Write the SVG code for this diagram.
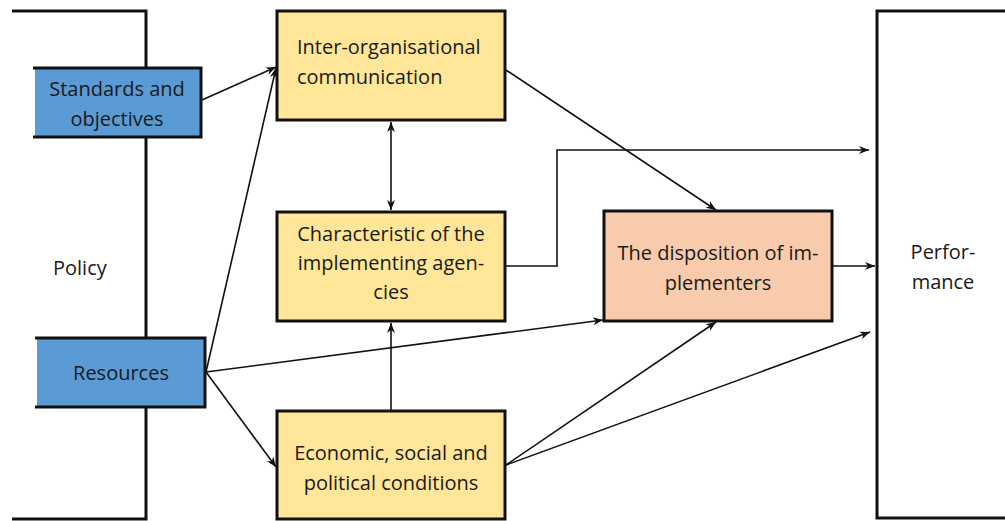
<svg xmlns="http://www.w3.org/2000/svg" width="1005" height="521" viewBox="0 0 1005 521">
<style>
  .txt{font-family:"Open Sans","Liberation Sans",sans-serif;font-size:20px;font-weight:500;fill:#1a1a1a}
  .c{text-anchor:middle}
  .frame{fill:none;stroke:#111;stroke-width:3}
  .box{stroke:#111;stroke-width:3}
  .yel{fill:#FFE699}
  .blue{fill:#5B9BD5}
  .sal{fill:#F8CBAD}
  .con{fill:none;stroke:#111;stroke-width:1.6}
</style>
<defs>
  <marker id="ah" viewBox="0 0 10 10" refX="10" refY="5" markerWidth="10" markerHeight="10" markerUnits="userSpaceOnUse" orient="auto-start-reverse">
    <path d="M0,1 L10,5 L0,9 L3,5 Z" fill="#111"/>
  </marker>
</defs>

<g id="policy">
  <path class="frame" d="M12,11 H146 V519 H12"/>
  <text class="txt" x="53" y="275">Policy</text>
</g>

<g id="performance">
  <path class="frame" d="M1010,11 H877 V518 H1010"/>
  <text class="txt c" x="943" y="259">Perfor-</text>
  <text class="txt c" x="943" y="289">mance</text>
</g>

<g id="connectors">
  <line class="con" x1="202" y1="100" x2="276" y2="67" marker-end="url(#ah)"/>
  <line class="con" x1="206" y1="372" x2="276" y2="68" marker-end="url(#ah)"/>
  <line class="con" x1="206" y1="372" x2="603" y2="320" marker-end="url(#ah)"/>
  <line class="con" x1="206" y1="372" x2="276" y2="467" marker-end="url(#ah)"/>
  <line class="con" x1="391" y1="122" x2="391" y2="210" marker-start="url(#ah)" marker-end="url(#ah)"/>
  <line class="con" x1="391" y1="410" x2="391" y2="323" marker-end="url(#ah)"/>
  <line class="con" x1="506" y1="70" x2="716" y2="210" marker-end="url(#ah)"/>
  <path class="con" d="M506,266 H557 V150 H869" marker-end="url(#ah)"/>
  <line class="con" x1="833" y1="266" x2="875" y2="266" marker-end="url(#ah)"/>
  <line class="con" x1="506" y1="465" x2="716" y2="322" marker-end="url(#ah)"/>
  <line class="con" x1="506" y1="465" x2="870" y2="332" marker-end="url(#ah)"/>
</g>

<g id="standards">
  <rect class="blue" x="35" y="68" width="166" height="69"/>
  <path class="frame" d="M33,68 H201 V137 H33"/>
  <text class="txt c" x="117" y="96">Standards and</text>
  <text class="txt c" x="117" y="126">objectives</text>
</g>

<g id="resources">
  <rect class="blue" x="37" y="338" width="168" height="69"/>
  <path class="frame" d="M35,338 H205 V407 H35"/>
  <text class="txt c" x="121" y="380">Resources</text>
</g>

<g id="interorg">
  <rect class="box yel" x="277" y="11" width="228" height="109"/>
  <text class="txt" x="297" y="54">Inter-organisational</text>
  <text class="txt" x="297" y="84">communication</text>
</g>

<g id="characteristic">
  <rect class="box yel" x="277" y="212" width="228" height="109"/>
  <text class="txt c" x="391" y="241">Characteristic of the</text>
  <text class="txt c" x="391" y="270">implementing agen-</text>
  <text class="txt c" x="391" y="299">cies</text>
</g>

<g id="disposition">
  <rect class="box sal" x="604" y="211" width="228" height="110"/>
  <text class="txt c" x="718" y="260">The disposition of im-</text>
  <text class="txt c" x="718" y="290">plementers</text>
</g>

<g id="economic">
  <rect class="box yel" x="277" y="411" width="228" height="108"/>
  <text class="txt c" x="391" y="460">Economic, social and</text>
  <text class="txt c" x="391" y="490">political conditions</text>
</g>
</svg>
